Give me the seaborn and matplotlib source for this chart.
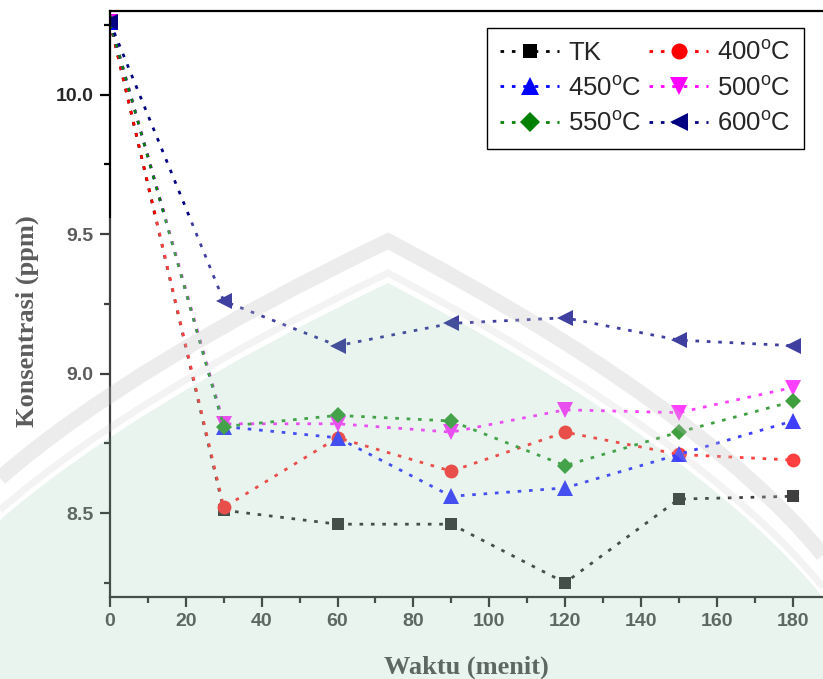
import matplotlib
matplotlib.use("Agg")
import matplotlib.pyplot as plt
import matplotlib.transforms as mtransforms
from matplotlib.path import Path
from matplotlib.patches import PathPatch, Rectangle
from matplotlib.ticker import MultipleLocator, FormatStrFormatter
import seaborn as sns

# Concentration (ppm) versus contact time (minutes)
waktu = [0, 30, 60, 90, 120, 150, 180]
tk = [10.26, 8.51, 8.46, 8.46, 8.25, 8.55, 8.56]
c400 = [10.26, 8.52, 8.77, 8.65, 8.79, 8.71, 8.69]
c450 = [10.26, 8.81, 8.77, 8.56, 8.59, 8.71, 8.83]
c500 = [10.26, 8.82, 8.82, 8.79, 8.87, 8.86, 8.95]
c550 = [10.26, 8.81, 8.85, 8.83, 8.67, 8.79, 8.90]
c600 = [10.26, 9.26, 9.10, 9.18, 9.20, 9.12, 9.10]

labels = ["TK", "400$^{\\mathrm{o}}$C", "450$^{\\mathrm{o}}$C",
          "500$^{\\mathrm{o}}$C", "550$^{\\mathrm{o}}$C", "600$^{\\mathrm{o}}$C"]
series = [tk, c400, c450, c500, c550, c600]
colors = ["#000000", "#ff0000", "#0000ff", "#ff00ff", "#008000", "#000080"]
markers = ["s", "o", "^", "v", "D", "<"]
msizes = [9, 10, 11.5, 11.5, 8.5, 11.5]

sns.set_style("ticks")
plt.rcParams["font.family"] = ["Liberation Sans", "DejaVu Sans"]
plt.rcParams["mathtext.fontset"] = "custom"
plt.rcParams["mathtext.rm"] = "Liberation Sans"
plt.rcParams["mathtext.it"] = "Liberation Sans:italic"
plt.rcParams["mathtext.bf"] = "Liberation Sans:bold"

W, H = 823, 679
fig = plt.figure(figsize=(W / 100, H / 100), dpi=100)
ax = fig.add_axes([110 / W, 1 - 596.7 / H, (W - 110) / W, (596.7 - 11) / H])

dots = (0, (1.3, 2.8))
handles = []
for vals, lab, col, mk, ms in zip(series, labels, colors, markers, msizes):
    sns.lineplot(x=waktu, y=vals, ax=ax, color=col, marker=mk, markersize=ms,
                 markeredgewidth=0, linewidth=2.0, linestyle=dots,
                 estimator=None, sort=False, label=lab, legend=False)
    handles.append(ax.get_lines()[-1])

ax.set_xlim(0, 188)
ax.set_ylim(8.2, 10.3)
ax.xaxis.set_major_locator(MultipleLocator(20))
ax.xaxis.set_minor_locator(MultipleLocator(10))
ax.yaxis.set_major_locator(MultipleLocator(0.5))
ax.yaxis.set_minor_locator(MultipleLocator(0.25))
ax.yaxis.set_major_formatter(FormatStrFormatter("%.1f"))

for side in ["left", "bottom", "top"]:
    ax.spines[side].set_linewidth(1.6)
    ax.spines[side].set_color("black")
ax.spines["right"].set_visible(False)

ax.tick_params(axis="both", which="major", direction="out", length=7,
               width=1.6, color="black", labelsize=14, pad=5)
ax.tick_params(axis="both", which="minor", direction="out", length=4,
               width=1.6, color="black")
ax.tick_params(top=False, right=False)
for t in ax.get_xticklabels() + ax.get_yticklabels():
    t.set_fontweight("bold")

ax.set_xlabel("Waktu (menit)", fontsize=19, fontweight="bold",
              family=["Liberation Serif"], labelpad=18)
ax.set_ylabel("Konsentrasi (ppm)", fontsize=19, fontweight="bold",
              family=["Liberation Serif"])
ax.yaxis.set_label_coords(-0.1, 0.47)

order = [0, 2, 4, 1, 3, 5]
leg = ax.legend([handles[i] for i in order], [labels[i] for i in order],
                ncol=2, loc="upper right", bbox_to_anchor=(0.973, 0.971),
                borderaxespad=0, fontsize=18.5, frameon=True, fancybox=False,
                edgecolor="black", framealpha=1, numpoints=1,
                handlelength=2.3, handletextpad=0.35, columnspacing=0.3,
                labelspacing=0.45, borderpad=0.5, markerscale=1.15)
leg.get_frame().set_linewidth(1.0)

# Pale seal watermark laid over the lower part of the figure
px = mtransforms.Affine2D().scale(1 / W, -1 / H).translate(0, 1) + fig.transFigure

fig.add_artist(Rectangle((0, 218), W, H - 218, transform=px, facecolor="white",
                         edgecolor="none", alpha=0.25, zorder=20))


def arch(dy):
    return [(0, 478 + dy), (130, 365 + dy), (388, 241 + dy),
            (700, 405 + dy), (823, 555 + dy)]


def arch_path(dy):
    return Path(arch(dy), [Path.MOVETO, Path.CURVE3, Path.CURVE3,
                           Path.CURVE3, Path.CURVE3])


fill_pts = arch(42) + [(W, H), (0, H), (0, 478 + 42)]
fill_codes = [Path.MOVETO, Path.CURVE3, Path.CURVE3, Path.CURVE3, Path.CURVE3,
              Path.LINETO, Path.LINETO, Path.CLOSEPOLY]
fig.add_artist(PathPatch(Path(fill_pts, fill_codes), transform=px,
                         facecolor="#66b68e", edgecolor="none", alpha=0.14,
                         zorder=21))
fig.add_artist(PathPatch(arch_path(0), transform=px, facecolor="none",
                         edgecolor="#bdbdbd", linewidth=11, alpha=0.28, zorder=22))
fig.add_artist(PathPatch(arch_path(32), transform=px, facecolor="none",
                         edgecolor="#c4c4c4", linewidth=5, alpha=0.2, zorder=22))

fig.savefig("out.png", dpi=100)
